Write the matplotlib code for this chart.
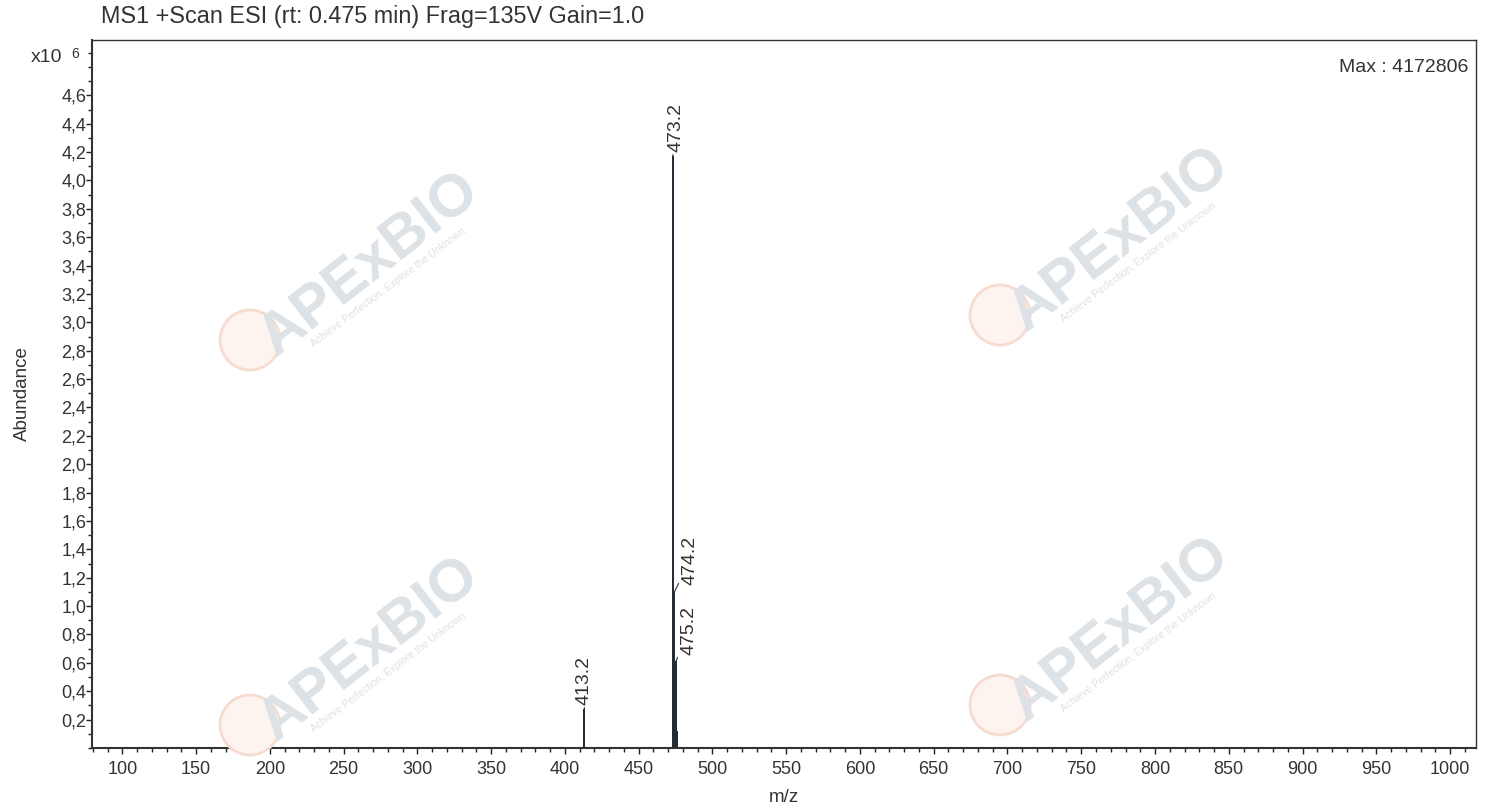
import matplotlib.pyplot as plt
from matplotlib.ticker import MultipleLocator, FuncFormatter
from matplotlib.patches import Circle
from matplotlib.transforms import IdentityTransform

plt.rcParams['font.family'] = ['Liberation Sans', 'DejaVu Sans']

# peaks (m/z, abundance)
mz = [413.2, 473.2, 474.2, 475.2, 476.2]
abundance = [275000, 4172806, 1100000, 610000, 120000]
labelled = ['413.2', '473.2', '474.2', '475.2']

W, H = 1486, 806
fig = plt.figure(figsize=(W / 100, H / 100), dpi=100)
ax = fig.add_axes([92 / W, 1 - 748 / H, 1384 / W, 708 / H])

# watermarks (faint, behind everything)
for cx, cy in [(370, 265), (1120, 240), (370, 650), (1120, 630)]:
    fig.text(cx / W, 1 - cy / H, 'APExBIO', fontsize=43, fontweight='bold',
             color='#dde2e7', rotation=38, ha='center', va='center', zorder=0)
    fig.text((cx + 18) / W, 1 - (cy + 22) / H, 'Achieve Perfection, Explore the Unknown',
             fontsize=7.5, color='#dde2e7', rotation=37, ha='center', va='center', zorder=0)
    fig.patches.append(Circle((cx - 120, H - (cy + 75)), 30, transform=IdentityTransform(),
                              facecolor='#fdf4ef', edgecolor='#f6dccf', lw=2, zorder=0))

ax.patch.set_alpha(0)
ax.vlines(mz, 0, abundance, color='#1f2933', lw=1.4)

def label_peak(x, y, text, dx, dy, ha):
    ax.annotate(text, xy=(x, y), xytext=(dx, dy), textcoords='offset points',
                rotation=90, ha=ha, va='bottom', fontsize=14, color='#333333',
                arrowprops=dict(arrowstyle='-', color='#333333', lw=0.8,
                                shrinkA=0, shrinkB=0))

label_peak(mz[0], abundance[0], labelled[0], 0, 3, 'center')
label_peak(mz[1], abundance[1], labelled[1], 2, 3, 'center')
label_peak(mz[2], abundance[2], labelled[2], 5, 5, 'left')
label_peak(mz[3], abundance[3], labelled[3], 3, 5, 'left')

ax.set_xlim(79.4, 1017.6)
ax.set_ylim(0, 4.99e6)
ax.xaxis.set_major_locator(MultipleLocator(50))
ax.xaxis.set_minor_locator(MultipleLocator(10))
ax.yaxis.set_minor_locator(MultipleLocator(0.1e6))
ax.set_yticks([i * 0.2e6 for i in range(1, 24)])
ax.yaxis.set_major_formatter(FuncFormatter(lambda v, p: f'{v / 1e6:.1f}'.replace('.', ',')))
ax.tick_params(which='major', direction='out', length=4, width=1, labelsize=13,
               colors='#222222', labelcolor='#333333')
ax.tick_params(which='minor', direction='out', length=3, width=1, colors='#222222')
ax.tick_params(axis='x', pad=5)
ax.tick_params(axis='y', pad=0)
for s in ax.spines.values():
    s.set_linewidth(1)
    s.set_color('#333333')
ax.spines['left'].set_linewidth(1.5)
ax.spines['bottom'].set_linewidth(1.5)

ax.set_xlabel('m/z', fontsize=13.5, color='#333333', labelpad=8)
ax.set_ylabel('Abundance', fontsize=13.5, color='#333333', labelpad=22)

fig.text(101 / W, 1 - 17 / H, 'MS1 +Scan ESI (rt: 0.475 min) Frag=135V Gain=1.0',
         fontsize=16.8, color='#333333', ha='left', va='center')
fig.text(31 / W, 1 - 58 / H, 'x10', fontsize=14, color='#333333', ha='left', va='center')
fig.text(71 / W, 1 - 54 / H, '6', fontsize=10, color='#333333', ha='left', va='center')
fig.text(1468 / W, 1 - 67 / H, 'Max : 4172806', fontsize=14, color='#333333',
         ha='right', va='center')

fig.savefig('out.png', dpi=100)
